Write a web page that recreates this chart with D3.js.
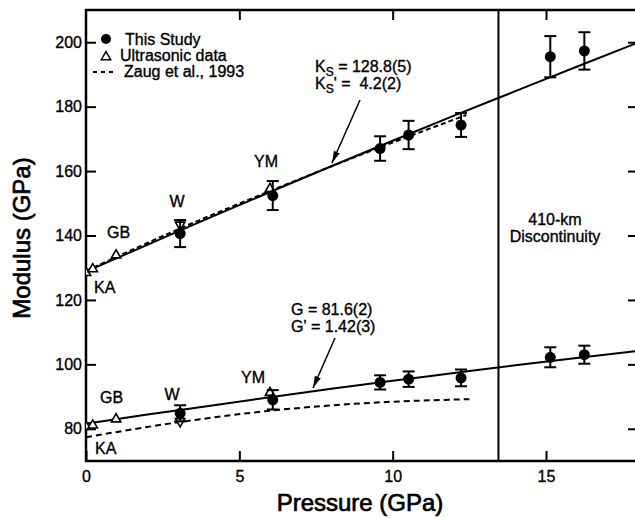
<!DOCTYPE html>
<html>
<head>
<meta charset="utf-8">
<script src="https://cdn.jsdelivr.net/npm/d3@7"></script>
<style>
  html, body { margin: 0; padding: 0; background: #fff; }
  svg { display: block; }
  text { font-family: "Liberation Sans", Arial, Helvetica, sans-serif; fill: #000;
         stroke: #000; stroke-width: 0.35px; white-space: pre; }
  text.title { stroke-width: 0.7px; }
</style>
</head>
<body>
<svg id="chart" width="635" height="518"></svg>
<script>
// ---- data -------------------------------------------------------------
// This study: pressure (GPa), adiabatic bulk modulus Ks and shear modulus G (GPa)
const studyP   = [3.07, 6.09, 9.59, 10.52, 12.23, 15.14, 16.25];
const studyKs  = [140.6, 152.4, 167.0, 171.2, 174.3, 195.5, 197.3];
const studyKsErr = [4.2, 4.5, 3.8, 4.4, 3.7, 6.4, 5.8];
const studyG   = [84.8, 89.0, 94.4, 95.4, 95.8, 102.2, 103.0];
const studyGErr  = [2.5, 3.0, 2.2, 2.4, 2.6, 3.1, 2.8];

// Ultrasonic data (KA, GB, W, YM)
const ultraSource = ["KA", "KA", "GB", "W", "YM"];
const ultraP   = [0.0, 0.22, 0.98, 3.07, 6.0];
const ultraKs  = [128.4, 129.6, 133.9, 143.3, 154.5];
const ultraG   = [80.7, 81.1, 83.0, 82.3, 91.2];
const ultraDown = [false, false, false, true, false];

// Finite-strain fits of this study
const fitP  = [0, 2, 4, 6, 8, 10, 12, 14, 16, 18];
const fitKs = [128.8, 137.1, 145.4, 153.5, 161.5, 169.4, 177.2, 184.8, 192.4, 199.9];
const fitG  = [81.6, 84.4, 87.1, 89.8, 92.4, 94.9, 97.3, 99.7, 102.0, 104.2];

// Zaug et al., 1993
const zaugP  = [0, 3, 6, 9, 12.4];
const zaugKs = [129.0, 141.9, 153.8, 165.2, 177.4];
const zaugGP = [0, 3, 6, 9, 12.5];
const zaugG  = [77.4, 82.0, 85.6, 87.9, 89.2];

const xTicks = [0, 5, 10, 15];
const yTicks = [80, 100, 120, 140, 160, 180, 200];
const discontinuityP = 13.45;

// ---- layout -----------------------------------------------------------
const svg = d3.select("#chart");
const plotL = 86, plotT = 10, plotR = 638, plotB = 461;
const x = d3.scaleLinear().domain([0, 18]).range([plotL, plotR]);
const y = d3.scaleLinear().domain([70, 210]).range([plotB, plotT]);

const defs = svg.append("defs");
defs.append("clipPath").attr("id", "plot-clip")
  .append("rect").attr("x", plotL).attr("y", plotT)
  .attr("width", plotR - plotL).attr("height", plotB - plotT);
defs.append("marker").attr("id", "arrow")
  .attr("viewBox", "0 0 12 8").attr("refX", 12).attr("refY", 4)
  .attr("markerWidth", 12).attr("markerHeight", 8)
  .attr("markerUnits", "userSpaceOnUse").attr("orient", "auto")
  .append("path").attr("d", "M0,0.8 L12,4 L0,7.2 Z").attr("fill", "#000");

// ---- axes (ticks point inward) ---------------------------------------
const fontTick = 16;
svg.append("g").attr("transform", `translate(0,${plotB})`)
  .call(d3.axisBottom(x).tickValues(xTicks).tickSize(-10).tickPadding(10).tickFormat(d3.format("d")))
  .call(g => g.select(".domain").remove())
  .call(g => g.selectAll("text").style("font-size", fontTick + "px"))
  .call(g => g.selectAll("line").attr("stroke-width", 2));
svg.append("g").attr("transform", `translate(0,${plotT})`)
  .call(d3.axisTop(x).tickValues(xTicks.slice(1)).tickSize(-10).tickFormat(""))
  .call(g => g.select(".domain").remove())
  .call(g => g.selectAll("line").attr("stroke-width", 2));
svg.append("g").attr("transform", `translate(${plotL},0)`)
  .call(d3.axisLeft(y).tickValues(yTicks).tickSize(-10).tickPadding(4).tickFormat(d3.format("d")))
  .call(g => g.select(".domain").remove())
  .call(g => g.selectAll("text").style("font-size", fontTick + "px"))
  .call(g => g.selectAll("line").attr("stroke-width", 2));
svg.append("g").attr("transform", `translate(${plotR},0)`)
  .call(d3.axisRight(y).tickValues(yTicks).tickSize(-10).tickFormat(""))
  .call(g => g.select(".domain").remove())
  .call(g => g.selectAll("line").attr("stroke-width", 2));

// frame
svg.append("rect").attr("x", plotL).attr("y", plotT)
  .attr("width", plotR - plotL).attr("height", plotB - plotT)
  .attr("fill", "none").attr("stroke", "#000").attr("stroke-width", 2.5);

// 410-km discontinuity
svg.append("line")
  .attr("x1", x(discontinuityP)).attr("x2", x(discontinuityP))
  .attr("y1", plotT).attr("y2", plotB)
  .attr("stroke", "#000").attr("stroke-width", 2);

// ---- curves -----------------------------------------------------------
const plot = svg.append("g").attr("clip-path", "url(#plot-clip)");
const line = d3.line().x(d => x(d[0])).y(d => y(d[1])).curve(d3.curveMonotoneX);

plot.append("path").datum(d3.zip(fitP, fitKs)).attr("d", line)
  .attr("fill", "none").attr("stroke", "#000").attr("stroke-width", 2);
plot.append("path").datum(d3.zip(fitP, fitG)).attr("d", line)
  .attr("fill", "none").attr("stroke", "#000").attr("stroke-width", 2);
plot.append("path").datum(d3.zip(zaugP, zaugKs)).attr("d", line)
  .attr("fill", "none").attr("stroke", "#000").attr("stroke-width", 2)
  .attr("stroke-dasharray", "5,3");
plot.append("path").datum(d3.zip(zaugGP, zaugG)).attr("d", line)
  .attr("fill", "none").attr("stroke", "#000").attr("stroke-width", 2)
  .attr("stroke-dasharray", "6,4");

// ---- ultrasonic triangles --------------------------------------------
const tri = d3.symbol().type(d3.symbolTriangle).size(38);
function drawUltra(values) {
  plot.selectAll(null).data(d3.range(ultraP.length)).join("path")
    .attr("d", tri)
    .attr("transform", i => `translate(${x(ultraP[i])},${y(values[i])})` + (ultraDown[i] ? " rotate(180)" : ""))
    .attr("fill", "#fff").attr("stroke", "#000").attr("stroke-width", 1.6);
}
drawUltra(ultraKs);
drawUltra(ultraG);

// ---- this study: points with error bars -------------------------------
function drawStudy(values, errs) {
  const g = plot.append("g");
  const idx = d3.range(studyP.length);
  const cap = 6;
  g.selectAll(null).data(idx).join("line")
    .attr("x1", i => x(studyP[i])).attr("x2", i => x(studyP[i]))
    .attr("y1", i => y(values[i] - errs[i])).attr("y2", i => y(values[i] + errs[i]))
    .attr("stroke", "#000").attr("stroke-width", 2);
  [-1, 1].forEach(s => {
    g.selectAll(null).data(idx).join("line")
      .attr("x1", i => x(studyP[i]) - cap).attr("x2", i => x(studyP[i]) + cap)
      .attr("y1", i => y(values[i] + s * errs[i])).attr("y2", i => y(values[i] + s * errs[i]))
      .attr("stroke", "#000").attr("stroke-width", 2);
  });
  g.selectAll(null).data(idx).join("circle")
    .attr("cx", i => x(studyP[i])).attr("cy", i => y(values[i]))
    .attr("r", 5.5).attr("fill", "#000");
}
drawStudy(studyKs, studyKsErr);
drawStudy(studyG, studyGErr);

// ---- labels -----------------------------------------------------------
function label(txt, px, py, size, anchor) {
  return svg.append("text").attr("x", px).attr("y", py)
    .attr("text-anchor", anchor || "start")
    .style("font-size", (size || 16) + "px").text(txt);
}
// source labels of the ultrasonic data
label("KA", 94, 293);
label("GB", 107, 238);
label("W", 177, 207, 16, "middle");
label("YM", 266, 167, 16, "middle");
label("KA", 95, 454);
label("GB", 100, 403);
label("W", 172, 400, 16, "middle");
label("YM", 253, 383, 16, "middle");

// fit parameters with arrows
function withSub(px, py, main, sub, rest) {
  const t = svg.append("text").attr("x", px).attr("y", py).style("font-size", "16px");
  t.append("tspan").text(main);
  t.append("tspan").attr("dy", 4).style("font-size", "12px").text(sub);
  t.append("tspan").attr("dy", -4).text(rest);
}
withSub(315, 72, "K", "S", " = 128.8(5)");
withSub(315, 89, "K", "S", "' =  4.2(2)");
svg.append("line").attr("x1", 360).attr("y1", 100).attr("x2", 332).attr("y2", 163)
  .attr("stroke", "#000").attr("stroke-width", 1.5).attr("marker-end", "url(#arrow)");

label("G = 81.6(2)", 291, 315);
label("G' = 1.42(3)", 291, 332);
svg.append("line").attr("x1", 335).attr("y1", 338).attr("x2", 313).attr("y2", 388)
  .attr("stroke", "#000").attr("stroke-width", 1.5).attr("marker-end", "url(#arrow)");

label("410-km", 555, 225, 16, "middle");
label("Discontinuity", 555, 242, 16, "middle");

// legend
svg.append("circle").attr("cx", 106).attr("cy", 39).attr("r", 5).attr("fill", "#000");
label("This Study", 125, 45);
svg.append("path").attr("d", tri).attr("transform", "translate(106,57)")
  .attr("fill", "#fff").attr("stroke", "#000").attr("stroke-width", 1.5);
label("Ultrasonic data", 120, 61);
svg.append("line").attr("x1", 93).attr("x2", 116).attr("y1", 72).attr("y2", 72)
  .attr("stroke", "#000").attr("stroke-width", 2).attr("stroke-dasharray", "4,4");
label("Zaug et al., 1993", 124, 77);

// axis titles
label("Pressure (GPa)", 360, 511, 24, "middle").attr("class", "title");
svg.append("text").attr("class", "title").attr("transform", "translate(30,238) rotate(-90)")
  .attr("text-anchor", "middle").style("font-size", "24px").text("Modulus (GPa)");
</script>
</body>
</html>
